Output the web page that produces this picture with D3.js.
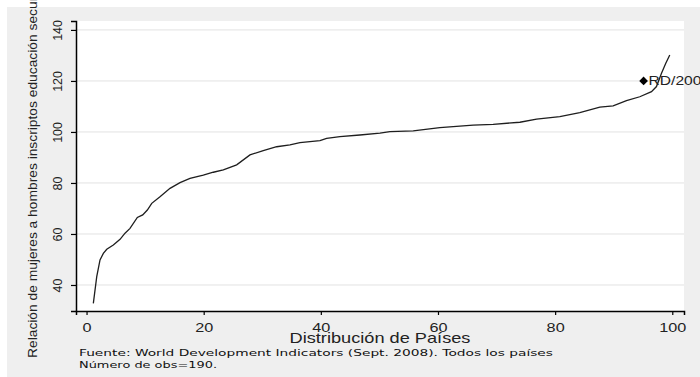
<!DOCTYPE html>
<html>
<head>
<meta charset="utf-8">
<script src="https://cdn.jsdelivr.net/npm/d3@7"></script>
<style>
  body { margin: 0; background: #fff; }
  svg { display: block; }
</style>
</head>
<body>
<div id="chart"></div>
<script>
// distribution of countries (percentile) vs. female/male enrolment ratio
const pctl = [1.16, 1.74, 2.30, 2.87, 3.45, 4.57, 5.72, 6.57, 7.42, 8.67, 9.59, 10.38, 11.13, 12.54,
  14.25, 15.96, 17.66, 19.93, 21.64, 23.35, 25.63, 27.9, 30.17, 32.46, 34.73, 36.43, 39.85, 40.99,
  43.26, 46.67, 50.09, 51.79, 55.77, 60.32, 66.0, 69.42, 73.98, 76.83, 80.8, 84.21, 87.63, 89.9,
  92.18, 94.45, 96.45, 97.3, 98.16, 98.89, 99.57];
const ratio = [32.8, 43.3, 49.8, 52.4, 54.0, 55.7, 57.9, 60.3, 62.2, 66.5, 67.5, 69.4, 72.0, 74.6,
  77.9, 80.1, 81.8, 83.1, 84.2, 85.1, 87.1, 91.0, 92.7, 94.2, 94.9, 95.8, 96.6, 97.5,
  98.2, 98.8, 99.5, 100.1, 100.4, 101.7, 102.7, 103.0, 103.8, 105.0, 106.0, 107.6, 109.7, 110.2,
  112.3, 113.8, 115.8, 117.8, 123.0, 126.9, 130.2];

const markX = [95.1];
const markY = [120];
const markLabel = ["RD/2006"];

const xTicks = [0, 20, 40, 60, 80, 100];
const yTicks = [40, 60, 80, 100, 120, 140];

const yTitle = "Relación de mujeres a hombres inscriptos educación secundaria";
const xTitle = "Distribución de Países";
const note1 = "Fuente: World Development Indicators (Sept. 2008). Todos los países";
const note2 = "Número de obs=190.";

const width = 700, height = 377;
const plot = {left: 76, right: 684, top: 21, bottom: 311};
const stretch = 1.3; // horizontal text is wider than it is tall in the picture

const svg = d3.select("#chart").append("svg")
    .attr("width", width)
    .attr("height", height)
    .attr("viewBox", [0, 0, width, height])
    .style("font-family", "Arial, 'Liberation Sans', sans-serif");

svg.append("rect").attr("width", width).attr("height", height).attr("fill", "#fff");
svg.append("rect")
    .attr("x", 7).attr("y", 7)
    .attr("width", width - 7).attr("height", height - 7)
    .attr("fill", "#efefef");
svg.append("rect")
    .attr("x", plot.left).attr("y", plot.top)
    .attr("width", plot.right - plot.left).attr("height", plot.bottom - plot.top)
    .attr("fill", "#fff");

const x = d3.scaleLinear().domain([-1.8, 102]).range([plot.left, plot.right]);
const y = d3.scaleLinear().domain([29.8, 143.5]).range([plot.bottom, plot.top]);

// grid lines
svg.append("g")
  .selectAll("line")
  .data(yTicks)
  .join("line")
    .attr("x1", plot.left)
    .attr("x2", plot.right)
    .attr("y1", d => y(d))
    .attr("y2", d => y(d))
    .attr("stroke", "#e2e2e2")
    .attr("stroke-width", 1);

// y axis
svg.append("g")
    .attr("transform", `translate(${plot.left},0)`)
    .call(d3.axisLeft(y).tickValues(yTicks).tickSizeOuter(0).tickSize(5))
    .call(g => g.select(".domain").attr("stroke", "#000").attr("stroke-width", 1.5))
    .call(g => g.selectAll(".tick line").attr("stroke", "#000").attr("stroke-width", 1.2))
    .call(g => g.selectAll(".tick text")
        .attr("x", 0)
        .attr("y", -14.3)
        .attr("dy", 0)
        .attr("transform", "rotate(-90)")
        .attr("text-anchor", "middle")
        .attr("font-size", 12.5)
        .attr("font-family", "Arial, 'Liberation Sans', sans-serif")
        .attr("fill", "#222"));

// x axis
svg.append("g")
    .attr("transform", `translate(0,${plot.bottom})`)
    .call(d3.axisBottom(x).tickValues(xTicks).tickSizeOuter(0).tickSize(4))
    .call(g => g.select(".domain").attr("stroke", "#000").attr("stroke-width", 1.5))
    .call(g => g.selectAll(".tick line").attr("stroke", "#000").attr("stroke-width", 1.2))
    .call(g => g.selectAll(".tick text")
        .attr("y", 21)
        .attr("dy", 0)
        .attr("transform", `scale(${stretch},1)`)
        .attr("font-size", 12.5)
        .attr("font-family", "Arial, 'Liberation Sans', sans-serif")
        .attr("fill", "#222"));

// axis titles (the y title runs past the top edge, as in the picture)
svg.append("text")
    .attr("transform", "translate(37.3,358) rotate(-90)")
    .attr("text-anchor", "start")
    .attr("font-size", 13)
    .attr("fill", "#222")
    .attr("textLength", 395)
    .attr("lengthAdjust", "spacingAndGlyphs")
    .text(yTitle);

svg.append("text")
    .attr("transform", `translate(${(plot.left + plot.right) / 2},343) scale(${stretch},1)`)
    .attr("text-anchor", "middle")
    .attr("font-size", 14)
    .attr("fill", "#222")
    .text(xTitle);

// footnotes
svg.append("text")
    .attr("x", 79).attr("y", 356)
    .attr("font-family", "'DejaVu Sans', Verdana, sans-serif")
    .attr("font-size", 9)
    .attr("fill", "#111")
    .attr("textLength", 474)
    .attr("lengthAdjust", "spacingAndGlyphs")
    .text(note1);

svg.append("text")
    .attr("x", 79).attr("y", 368)
    .attr("font-family", "'DejaVu Sans', Verdana, sans-serif")
    .attr("font-size", 9)
    .attr("fill", "#111")
    .attr("textLength", 138)
    .attr("lengthAdjust", "spacingAndGlyphs")
    .text(note2);

// curve
const line = d3.line()
    .x(i => x(pctl[i]))
    .y(i => y(ratio[i]));

svg.append("path")
    .datum(d3.range(pctl.length))
    .attr("fill", "none")
    .attr("stroke", "#1e1e1e")
    .attr("stroke-width", 1.3)
    .attr("d", line);

// highlighted country
svg.append("g")
  .selectAll("path")
  .data(markX)
  .join("path")
    .attr("transform", (d, i) => `translate(${x(d)},${y(markY[i])})`)
    .attr("d", d3.symbol(d3.symbolDiamond2, 48))
    .attr("fill", "#000");

svg.append("g")
  .selectAll("text")
  .data(markX)
  .join("text")
    .attr("transform", (d, i) => `translate(${x(d) + 5},${y(markY[i]) + 4.5}) scale(${stretch},1)`)
    .attr("font-size", 12)
    .attr("fill", "#222")
    .text((d, i) => markLabel[i]);
</script>
</body>
</html>
